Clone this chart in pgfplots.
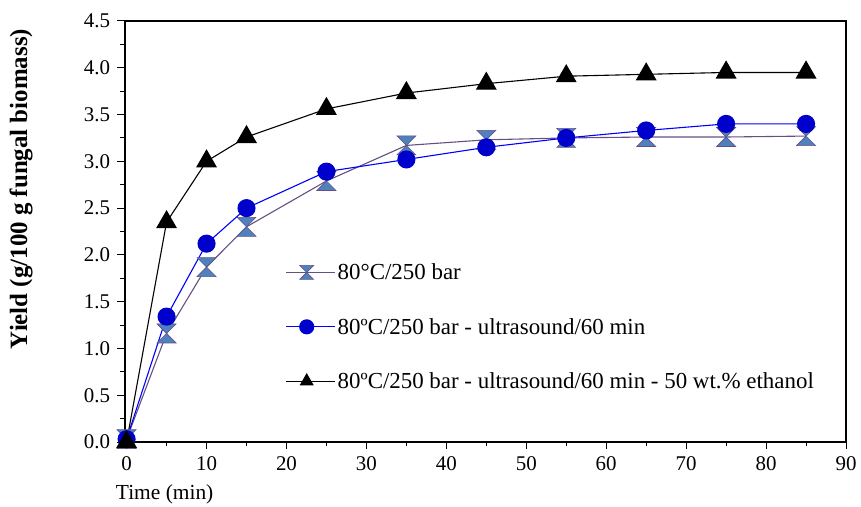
\documentclass[border=0pt]{standalone}
\usepackage{fontspec}
\setmainfont{Liberation Serif}
\usepackage{pgfplots}
\pgfplotsset{compat=1.18}

\definecolor{hgline}{HTML}{645082}
\definecolor{hgfill}{HTML}{4F81BD}
\definecolor{cline}{HTML}{0000FF}
\definecolor{cfill}{HTML}{0000CC}

% hourglass mark: two triangles tip to tip
\pgfdeclareplotmark{hourglass}{%
  \pgfpathmoveto{\pgfqpoint{-\pgfplotmarksize}{\pgfplotmarksize}}%
  \pgfpathlineto{\pgfqpoint{\pgfplotmarksize}{\pgfplotmarksize}}%
  \pgfpathlineto{\pgfqpoint{-\pgfplotmarksize}{-\pgfplotmarksize}}%
  \pgfpathlineto{\pgfqpoint{\pgfplotmarksize}{-\pgfplotmarksize}}%
  \pgfpathclose
  \pgfusepathqfillstroke}

\begin{document}
\begin{tikzpicture}
\path[use as bounding box] (-125bp,-65bp) rectangle (736bp,442bp);
\begin{axis}[
  scale only axis,
  width=721bp, height=421bp,
  xmin=-0.2, xmax=90,
  ymin=0, ymax=4.5,
  xtick={0,10,...,90},
  minor xtick={5,15,...,85},
  ytick={0,0.5,...,4.5},
  minor ytick={0.25,0.75,...,4.25},
  xtick pos=left, ytick pos=left,
  tick align=outside,
  major tick length=7.5bp, minor tick length=4.5bp,
  axis line style={line width=1.1pt},
  every tick/.style={black, line width=1pt},
  yticklabel style={/pgf/number format/fixed, /pgf/number format/fixed zerofill, /pgf/number format/precision=1, xshift=-4bp},
  xticklabel style={yshift=-4bp},
  /pgf/number format/assume math mode=true,
  tick label style={font=\fontsize{21}{23}\selectfont},
  xlabel={Time (min)},
  xlabel style={font=\fontsize{21.5}{23}\selectfont, at={(axis description cs:0.055,-0.1235)}, anchor=center},
  ylabel={\textbf{Yield (g/100 g fungal biomass)}},
  ylabel style={font=\fontsize{25}{27}\selectfont, at={(axis description cs:-0.144,0.601)}, anchor=center},
  legend style={draw=none, fill=none, at={(axis cs:19.5,1.95)}, anchor=north west,
    font=\fontsize{23}{25}\selectfont, row sep=33bp, cells={anchor=west}},
  legend image code/.code={%
    \path (0bp,0bp) -- (49bp,0bp);
    \draw[#1] (0bp,0bp) -- (20.5bp,0bp) -- (41bp,0bp);
    \draw[#1, mark size=7bp] plot coordinates {(20.5bp,0bp)};},
  clip=false,
]
\addplot[hgline, line width=1.1pt, mark=hourglass, mark size=9.5bp,
  mark options={fill=hgfill, draw=hgline, line width=0.6pt}]
coordinates{
(0,0.03) (5,1.16) (10,1.87) (15,2.30) (25,2.79) (35,3.17)
(45,3.23) (55,3.25) (65,3.26) (75,3.26) (85,3.27)
};
\addlegendentry{80°C/250 bar}

\addplot[cline, line width=1.1pt, mark=*, mark size=8.5bp,
  mark options={fill=cfill, draw=cfill}]
coordinates{
(0,0.03) (5,1.34) (10,2.12) (15,2.50) (25,2.89) (35,3.02)
(45,3.15) (55,3.25) (65,3.33) (75,3.40) (85,3.40)
};
\addlegendentry{80ºC/250 bar - ultrasound/60 min}

\addplot[black, line width=1.1pt, mark=triangle*, mark size=11bp,
  mark options={fill=black, draw=black}]
coordinates{
(0,0.0) (5,2.35) (10,3.00) (15,3.26) (25,3.56) (35,3.73)
(45,3.83) (55,3.91) (65,3.93) (75,3.95) (85,3.95)
};
\addlegendentry{80ºC/250 bar - ultrasound/60 min - 50 wt.\% ethanol}
\end{axis}
\end{tikzpicture}
\end{document}
